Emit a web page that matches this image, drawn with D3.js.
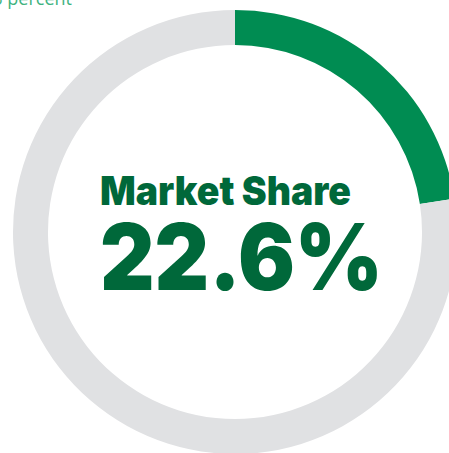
<!DOCTYPE html>
<meta charset="utf-8">
<style>
body { margin: 0; background: #fff; }
.label { font-family: Inter, Lato, sans-serif; fill: #00683a; font-weight: 900; }
.alt { font: 18px "Open Sans", sans-serif; fill: #3fb37f; }
</style>
<body>
<script src="https://cdn.jsdelivr.net/npm/d3@7"></script>
<script>

var width = 449,
    height = 453;

var categories = ["Market Share", "Other"];
var values = [22.6, 77.4];
var title = "Market Share";
var valueLabel = "22.6%";
var altText = "22.6 percent";

var color = d3.scaleOrdinal()
    .domain(categories)
    .range(["#008c52", "#e0e1e3"]);

var pie = d3.pie()
    .sort(null)
    .value(function(d) { return d; });

var arc = d3.arc()
    .outerRadius(222)
    .innerRadius(187);

var svg = d3.select("body").append("svg")
    .attr("width", width)
    .attr("height", height);

svg.append("text")
    .attr("class", "alt")
    .attr("x", 72)
    .attr("y", 5)
    .attr("text-anchor", "end")
    .text(altText);

var g = svg.append("g")
    .attr("transform", "translate(235,232)");

g.selectAll("path")
    .data(pie(values))
  .enter().append("path")
    .attr("d", arc)
    .style("fill", function(d, i) { return color(categories[i]); });

svg.append("text")
    .attr("class", "label")
    .attr("x", 100)
    .attr("y", 205)
    .attr("textLength", 251)
    .attr("lengthAdjust", "spacingAndGlyphs")
    .style("font-size", "40px")
    .text(title);

svg.append("text")
    .attr("class", "label")
    .attr("x", 100)
    .attr("y", 290)
    .attr("textLength", 283)
    .attr("lengthAdjust", "spacingAndGlyphs")
    .style("font-size", "92px")
    .text(valueLabel);

</script>
